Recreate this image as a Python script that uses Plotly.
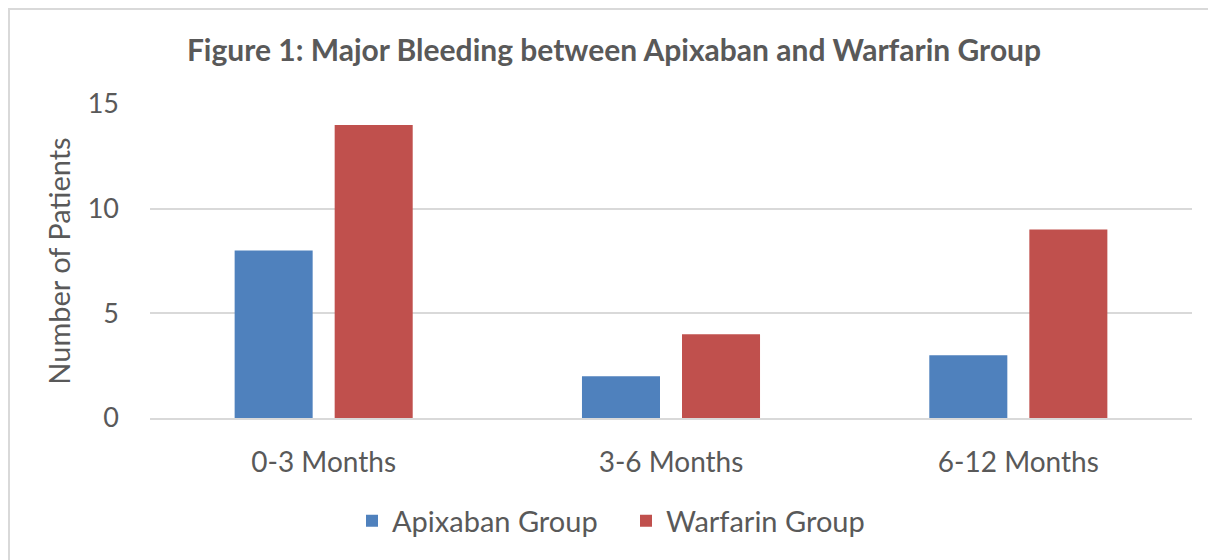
import plotly.graph_objects as go

categories = ["0-3 Months", "3-6 Months", "6-12 Months"]
apixaban = [8, 2, 3]
warfarin = [14, 4, 9]
y_ticks = [0, 5, 10, 15]

font_family = "Lato, 'Open Sans', sans-serif"
text_color = "#595959"

fig = go.Figure()
fig.add_trace(go.Bar(name="Apixaban Group", x=categories, y=apixaban,
                     marker=dict(color="#4F81BD", line=dict(width=0))))
fig.add_trace(go.Bar(name="Warfarin Group", x=categories, y=warfarin,
                     marker=dict(color="#C0504D", line=dict(width=0))))

# page body has an 8px offset
OFF = 8
W, H = 1208, 552
L = 150 - OFF
T = 104 - OFF
R = W - (1192 - OFF)
B = H - (418 - OFF)
pw, ph = W - L - R, H - T - B

def px_to_py(y):  # screen y to paper y
    return (418 - y) / ph

def px_to_px(x):
    return (x - 150) / pw

fig.update_layout(
    width=W, height=H,
    margin=dict(l=L, r=R, t=T, b=B, pad=0),
    paper_bgcolor="white", plot_bgcolor="white",
    barmode="group", bargap=0.424, bargroupgap=0.22,
    font=dict(family=font_family, color=text_color),
    title=dict(text="<b>Figure 1: Major Bleeding between Apixaban and Warfarin Group</b>",
               x=(614 - OFF) / W, xanchor="center", y=1 - (50 - OFF) / H, yanchor="middle",
               font=dict(size=30, color=text_color, family=font_family)),
    xaxis=dict(showgrid=False, showline=True, linecolor="#D9D9D9", linewidth=2,
               ticks="", tickfont=dict(size=28, color=text_color),
               ticklabelstandoff=18),
    yaxis=dict(range=[0, 15], tickvals=y_ticks, showgrid=True, gridcolor="#D9D9D9",
               gridwidth=1.5, zeroline=False, ticks="", ticklen=0,
               tickfont=dict(size=27, color=text_color), ticklabelstandoff=30,
               title=dict(text="Number of Patients", font=dict(size=29, color=text_color),
                          standoff=8)),
    legend=dict(orientation="h", x=px_to_px(352), xref="paper", xanchor="left",
                y=px_to_py(521), yanchor="middle",
                font=dict(size=29, color=text_color), itemwidth=30,
                entrywidth=229, entrywidthmode="pixels",
                traceorder="normal"),
    shapes=[dict(type="rect", xref="paper", yref="paper",
                 x0=px_to_px(9), x1=px_to_px(1260),
                 y0=px_to_py(620), y1=px_to_py(9),
                 line=dict(color="#D9D9D9", width=2), fillcolor="rgba(0,0,0,0)",
                 layer="below")],
)
fig.write_html("out.html")
